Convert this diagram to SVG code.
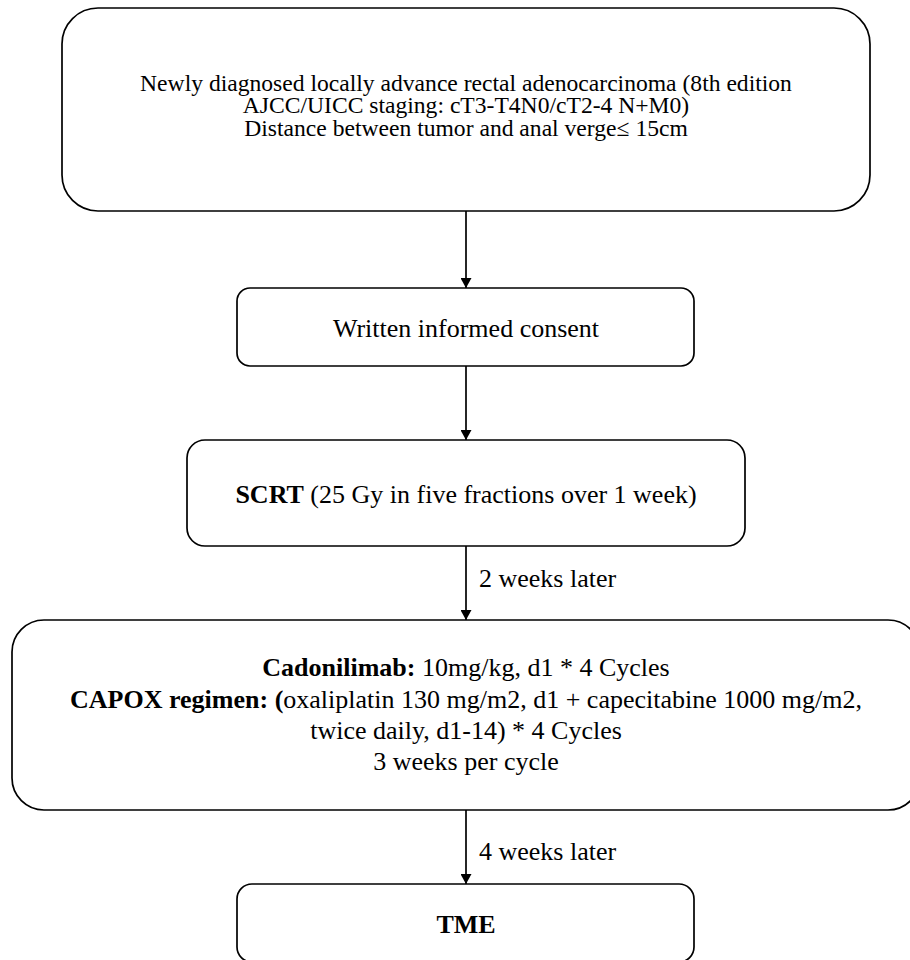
<svg xmlns="http://www.w3.org/2000/svg" width="910" height="960" viewBox="0 0 910 960">
  <defs>
    <marker id="arrow" viewBox="0 0 10 11" refX="10" refY="5.5" markerWidth="10" markerHeight="11" markerUnits="userSpaceOnUse" orient="auto">
      <path d="M0,0 L10,5.5 L0,11 z" fill="#000"/>
    </marker>
    <style>
      .box { fill: #fff; stroke: #000; stroke-width: 1.7; }
      .conn { fill: none; stroke: #000; stroke-width: 1.7; marker-end: url(#arrow); }
      text { font-family: "Liberation Serif", "Times New Roman", serif; fill: #000; }
      .t26 { font-size: 26px; }
      .t23 { font-size: 23.6px; }
      .c { text-anchor: middle; }
      .b { font-weight: bold; }
    </style>
  </defs>
  <rect width="910" height="960" fill="#fff"/>

  <g id="connectors">
    <path class="conn" d="M466,211 V288"/>
    <path class="conn" d="M466,366 V440"/>
    <path class="conn" d="M466,546 V620"/>
    <path class="conn" d="M466,810 V884"/>
    <text class="t26" x="479" y="587">2 weeks later</text>
    <text class="t26" x="479" y="860">4 weeks later</text>
  </g>

  <g id="node-eligibility">
    <rect class="box" x="62" y="8" width="808" height="203" rx="36" ry="36"/>
    <text class="t23 c" x="466" y="90.5">Newly diagnosed locally advance rectal adenocarcinoma (8th edition</text>
    <text class="t23 c" x="466" y="113">AJCC/UICC staging: cT3-T4N0/cT2-4 N+M0)</text>
    <text class="t23 c" x="466" y="135.5">Distance between tumor and anal verge≤ 15cm</text>
  </g>

  <g id="node-consent">
    <rect class="box" x="237" y="288" width="457" height="78" rx="13" ry="13"/>
    <text class="t26 c" x="466" y="337">Written informed consent</text>
  </g>

  <g id="node-scrt">
    <rect class="box" x="187" y="440" width="558" height="106" rx="18" ry="18"/>
    <text class="t26 c" x="466" y="503"><tspan class="b">SCRT</tspan> (25 Gy in five fractions over 1 week)</text>
  </g>

  <g id="node-treatment">
    <rect class="box" x="12" y="620" width="908" height="190" rx="32" ry="32"/>
    <text class="t26 c" x="466" y="676"><tspan class="b">Cadonilimab:</tspan> 10mg/kg, d1 * 4 Cycles</text>
    <text class="t26 c" x="466" y="708"><tspan class="b">CAPOX regimen: (</tspan>oxaliplatin 130 mg/m2, d1 + capecitabine 1000 mg/m2,</text>
    <text class="t26 c" x="466" y="739">twice daily, d1-14) * 4 Cycles</text>
    <text class="t26 c" x="466" y="770">3 weeks per cycle</text>
  </g>

  <g id="node-tme">
    <rect class="box" x="237" y="884" width="457" height="78" rx="15" ry="15"/>
    <text class="t26 c b" x="466" y="933">TME</text>
  </g>
</svg>
